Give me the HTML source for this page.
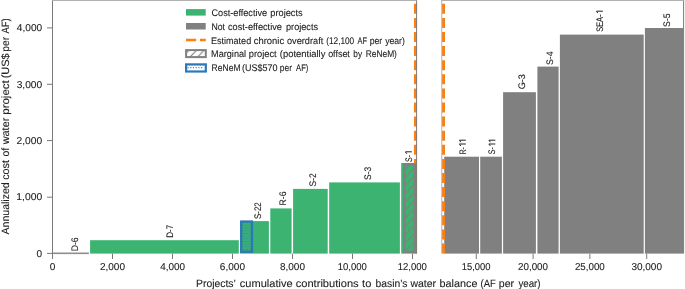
<!DOCTYPE html>
<html><head><meta charset="utf-8"><style>
html,body{margin:0;padding:0;background:#fff;width:685px;height:289px;overflow:hidden;}
svg{display:block;will-change:transform;}
text{font-family:"Liberation Sans", sans-serif;fill:#222222;text-rendering:geometricPrecision;stroke:#222222;stroke-width:0.1px;}
</style></head><body>
<svg width="685" height="289" viewBox="0 0 685 289">
<defs>
<pattern id="hatch" patternUnits="userSpaceOnUse" x="0" y="0.200" width="8.2" height="8.2"><rect width="8.2" height="8.2" fill="#3cb371"/><path d="M-1 9.2 L9.2 -1 M-1 1 L1 -1 M7.199999999999999 9.2 L9.2 7.199999999999999" stroke="#808080" stroke-width="1.15" fill="none"/></pattern>
<pattern id="hatchL" patternUnits="userSpaceOnUse" x="0" y="3.700" width="7.6" height="7.6"><rect width="7.6" height="7.6" fill="#fff"/><path d="M-1 8.6 L8.6 -1 M-1 1 L1 -1 M6.6 8.6 L8.6 6.6" stroke="#808080" stroke-width="1.15" fill="none"/></pattern>
<pattern id="dots" patternUnits="userSpaceOnUse" x="244.662" y="224.062" width="2.95" height="5.35"><rect width="2.95" height="5.35" fill="#3cb371"/><circle cx="0.738" cy="1.337" r="0.68" fill="#2a78b8"/><circle cx="2.213" cy="4.012" r="0.68" fill="#2a78b8"/></pattern>
<pattern id="dotsL" patternUnits="userSpaceOnUse" x="188.755" y="64.325" width="2.7" height="5.3"><rect width="2.7" height="5.3" fill="#fff"/><circle cx="0.675" cy="1.325" r="0.6" fill="#2a78b8"/><circle cx="2.025" cy="3.975" r="0.6" fill="#2a78b8"/></pattern>
</defs>
<rect x="52.5" y="252.5" width="36.4" height="1.6" fill="#8e8e8e"/>
<rect x="90.1" y="240.2" width="148.70" height="13.40" fill="#3cb371"/>
<rect x="252.9" y="221.1" width="16.00" height="32.50" fill="#3cb371"/>
<rect x="270.3" y="208.4" width="21.30" height="45.20" fill="#3cb371"/>
<rect x="293.1" y="188.9" width="34.60" height="64.70" fill="#3cb371"/>
<rect x="329.2" y="182.4" width="70.70" height="71.20" fill="#3cb371"/>
<rect x="401.2" y="163.0" width="15.40" height="90.60" fill="#3cb371"/>
<rect x="444.2" y="156.7" width="34.80" height="96.90" fill="#808080"/>
<rect x="480.2" y="156.7" width="21.70" height="96.90" fill="#808080"/>
<rect x="503.1" y="92.2" width="32.80" height="161.40" fill="#808080"/>
<rect x="537.4" y="66.6" width="21.20" height="187.00" fill="#808080"/>
<rect x="559.9" y="34.6" width="83.80" height="219.00" fill="#808080"/>
<rect x="644.9" y="28.0" width="38.20" height="225.60" fill="#808080"/>
<rect x="240.1" y="222" width="13" height="31.60" fill="#3cb371"/>
<rect x="241.25" y="221.55" width="10.70" height="30.20" fill="url(#dots)" stroke="#2a78b8" stroke-width="2.3"/>
<line x1="415.4" y1="3.8" x2="415.4" y2="253.6" stroke="#ff7f0e" stroke-width="2.9" stroke-dasharray="10 4.1"/>
<line x1="443.55" y1="3.8" x2="443.55" y2="253.6" stroke="#ff7f0e" stroke-width="2.9" stroke-dasharray="10 4.1"/>
<rect x="404.34999999999997" y="164.45000000000002" width="10.50" height="87.50" fill="url(#hatch)" stroke="#808080" stroke-width="2.3"/>
<path d="M52.5 0 V259 M416.6 0 V253.6" stroke="#7a7a7a" stroke-width="1" fill="none"/>
<path d="M683.6 0 V253.6" stroke="#7a7a7a" stroke-width="1" fill="none"/><rect x="441.5" y="0" width="0.7" height="253.6" fill="#909090"/>
<rect x="52" y="0" width="365.1" height="0.9" fill="#a9a9a9"/><rect x="441.5" y="0" width="242.6" height="0.9" fill="#a9a9a9"/>
<line x1="47" y1="253.4" x2="52.5" y2="253.4" stroke="#7a7a7a" stroke-width="1"/>
<text x="36.61" y="256.60" textLength="5.58" lengthAdjust="spacingAndGlyphs" style="font-size:10px">0</text>
<line x1="47" y1="197.2" x2="52.5" y2="197.2" stroke="#7a7a7a" stroke-width="1"/>
<text x="16.31" y="200.40" textLength="25.89" lengthAdjust="spacingAndGlyphs" style="font-size:10px">1,000</text>
<line x1="47" y1="140.6" x2="52.5" y2="140.6" stroke="#7a7a7a" stroke-width="1"/>
<text x="16.59" y="143.80" textLength="25.61" lengthAdjust="spacingAndGlyphs" style="font-size:10px">2,000</text>
<line x1="47" y1="84.3" x2="52.5" y2="84.3" stroke="#7a7a7a" stroke-width="1"/>
<text x="16.71" y="87.50" textLength="25.49" lengthAdjust="spacingAndGlyphs" style="font-size:10px">3,000</text>
<line x1="47" y1="27.9" x2="52.5" y2="27.9" stroke="#7a7a7a" stroke-width="1"/>
<text x="16.87" y="31.10" textLength="25.33" lengthAdjust="spacingAndGlyphs" style="font-size:10px">4,000</text>
<line x1="52.5" y1="253.6" x2="52.5" y2="259" stroke="#7a7a7a" stroke-width="1"/>
<text x="49.71" y="270.30" textLength="5.58" lengthAdjust="spacingAndGlyphs" style="font-size:10px">0</text>
<line x1="112.5" y1="253.6" x2="112.5" y2="259" stroke="#7a7a7a" stroke-width="1"/>
<text x="99.90" y="270.30" textLength="25.10" lengthAdjust="spacingAndGlyphs" style="font-size:10px">2,000</text>
<line x1="172.5" y1="253.6" x2="172.5" y2="259" stroke="#7a7a7a" stroke-width="1"/>
<text x="160.17" y="270.30" textLength="24.81" lengthAdjust="spacingAndGlyphs" style="font-size:10px">4,000</text>
<line x1="232.5" y1="253.6" x2="232.5" y2="259" stroke="#7a7a7a" stroke-width="1"/>
<text x="219.89" y="270.30" textLength="25.10" lengthAdjust="spacingAndGlyphs" style="font-size:10px">6,000</text>
<line x1="292.5" y1="253.6" x2="292.5" y2="259" stroke="#7a7a7a" stroke-width="1"/>
<text x="279.97" y="270.30" textLength="25.03" lengthAdjust="spacingAndGlyphs" style="font-size:10px">8,000</text>
<line x1="352.5" y1="253.6" x2="352.5" y2="259" stroke="#7a7a7a" stroke-width="1"/>
<text x="337.78" y="270.30" textLength="29.10" lengthAdjust="spacingAndGlyphs" style="font-size:10px">10,000</text>
<line x1="412.5" y1="253.6" x2="412.5" y2="259" stroke="#7a7a7a" stroke-width="1"/>
<text x="397.78" y="270.30" textLength="29.10" lengthAdjust="spacingAndGlyphs" style="font-size:10px">12,000</text>
<line x1="476.3" y1="253.6" x2="476.3" y2="259" stroke="#7a7a7a" stroke-width="1"/>
<text x="461.79" y="270.30" textLength="28.68" lengthAdjust="spacingAndGlyphs" style="font-size:10px">15,000</text>
<line x1="533.1" y1="253.6" x2="533.1" y2="259" stroke="#7a7a7a" stroke-width="1"/>
<text x="518.06" y="270.30" textLength="29.98" lengthAdjust="spacingAndGlyphs" style="font-size:10px">20,000</text>
<line x1="589.9" y1="253.6" x2="589.9" y2="259" stroke="#7a7a7a" stroke-width="1"/>
<text x="574.91" y="270.30" textLength="29.87" lengthAdjust="spacingAndGlyphs" style="font-size:10px">25,000</text>
<line x1="646.7" y1="253.6" x2="646.7" y2="259" stroke="#7a7a7a" stroke-width="1"/>
<text x="631.42" y="270.30" textLength="30.57" lengthAdjust="spacingAndGlyphs" style="font-size:10px">30,000</text>
<text x="196.05" y="286.60" textLength="39.79" lengthAdjust="spacingAndGlyphs" style="font-size:10.6px">Projects’</text>
<text x="239.83" y="286.60" textLength="52.76" lengthAdjust="spacingAndGlyphs" style="font-size:10.6px">cumulative</text>
<text x="295.73" y="286.60" textLength="62.97" lengthAdjust="spacingAndGlyphs" style="font-size:10.6px">contributions</text>
<text x="362.13" y="286.60" textLength="9.23" lengthAdjust="spacingAndGlyphs" style="font-size:10.6px">to</text>
<text x="375.54" y="286.60" textLength="31.93" lengthAdjust="spacingAndGlyphs" style="font-size:10.6px">basin’s</text>
<text x="410.42" y="286.60" textLength="25.66" lengthAdjust="spacingAndGlyphs" style="font-size:10.6px">water</text>
<text x="439.60" y="286.60" textLength="37.88" lengthAdjust="spacingAndGlyphs" style="font-size:10.6px">balance</text>
<text x="480.51" y="286.60" textLength="15.27" lengthAdjust="spacingAndGlyphs" style="font-size:10.6px">(AF</text>
<text x="498.81" y="286.60" textLength="15.36" lengthAdjust="spacingAndGlyphs" style="font-size:10.6px">per</text>
<text x="518.38" y="286.60" textLength="22.23" lengthAdjust="spacingAndGlyphs" style="font-size:10.6px">year)</text>
<text transform="translate(8.50 0) rotate(-90)" x="-234.42" y="0" textLength="52.00" lengthAdjust="spacingAndGlyphs" style="font-size:10.6px">Annualized</text>
<text transform="translate(8.50 0) rotate(-90)" x="-179.86" y="0" textLength="19.74" lengthAdjust="spacingAndGlyphs" style="font-size:10.6px">cost</text>
<text transform="translate(8.50 0) rotate(-90)" x="-156.54" y="0" textLength="8.83" lengthAdjust="spacingAndGlyphs" style="font-size:10.6px">of</text>
<text transform="translate(8.50 0) rotate(-90)" x="-144.28" y="0" textLength="26.56" lengthAdjust="spacingAndGlyphs" style="font-size:10.6px">water</text>
<text transform="translate(8.50 0) rotate(-90)" x="-114.74" y="0" textLength="34.42" lengthAdjust="spacingAndGlyphs" style="font-size:10.6px">project</text>
<text transform="translate(8.50 0) rotate(-90)" x="-78.38" y="0" textLength="25.06" lengthAdjust="spacingAndGlyphs" style="font-size:10.6px">(US$</text>
<text transform="translate(8.50 0) rotate(-90)" x="-51.66" y="0" textLength="14.73" lengthAdjust="spacingAndGlyphs" style="font-size:10.6px">per</text>
<text transform="translate(8.50 0) rotate(-90)" x="-33.52" y="0" textLength="15.20" lengthAdjust="spacingAndGlyphs" style="font-size:10.6px">AF)</text>
<text transform="translate(77.77 0) rotate(-90)" x="-251.31" y="0" textLength="13.99" lengthAdjust="spacingAndGlyphs" style="font-size:9.5px">D-6</text>
<text transform="translate(172.97 0) rotate(-90)" x="-237.76" y="0" textLength="12.96" lengthAdjust="spacingAndGlyphs" style="font-size:9.5px">D-7</text>
<text transform="translate(261.27 0) rotate(-90)" x="-219.06" y="0" textLength="16.86" lengthAdjust="spacingAndGlyphs" style="font-size:9.5px">S-22</text>
<text transform="translate(286.07 0) rotate(-90)" x="-205.41" y="0" textLength="13.89" lengthAdjust="spacingAndGlyphs" style="font-size:9.5px">R-6</text>
<text transform="translate(315.57 0) rotate(-90)" x="-186.38" y="0" textLength="13.11" lengthAdjust="spacingAndGlyphs" style="font-size:9.5px">S-2</text>
<text transform="translate(371.07 0) rotate(-90)" x="-179.88" y="0" textLength="13.16" lengthAdjust="spacingAndGlyphs" style="font-size:9.5px">S-3</text>
<text transform="translate(524.87 0) rotate(-90)" x="-89.36" y="0" textLength="15.16" lengthAdjust="spacingAndGlyphs" style="font-size:9.5px">G-3</text>
<text transform="translate(553.37 0) rotate(-90)" x="-65.10" y="0" textLength="13.66" lengthAdjust="spacingAndGlyphs" style="font-size:9.5px">S-4</text>
<text transform="translate(670.37 0) rotate(-90)" x="-26.89" y="0" textLength="13.46" lengthAdjust="spacingAndGlyphs" style="font-size:9.5px">S-5</text>
<text transform="translate(465.80 0) rotate(-90)" x="-154.36" y="0" textLength="7.16" lengthAdjust="spacingAndGlyphs" style="font-size:9.5px">R-</text>
<path d="M459.30 144.00 H465.80 M459.50 144.20 L460.80 146.00" stroke="#222222" stroke-width="1.0" fill="none"/>
<path d="M459.30 140.20 H465.80 M459.50 140.40 L460.80 142.20" stroke="#222222" stroke-width="1.0" fill="none"/>
<text transform="translate(495.30 0) rotate(-90)" x="-154.22" y="0" textLength="7.03" lengthAdjust="spacingAndGlyphs" style="font-size:9.5px">S-</text>
<path d="M488.80 144.00 H495.30 M489.00 144.20 L490.30 146.00" stroke="#222222" stroke-width="1.0" fill="none"/>
<path d="M488.80 140.20 H495.30 M489.00 140.40 L490.30 142.20" stroke="#222222" stroke-width="1.0" fill="none"/>
<text transform="translate(411.80 0) rotate(-90)" x="-161.92" y="0" textLength="7.03" lengthAdjust="spacingAndGlyphs" style="font-size:9.5px">S-</text>
<path d="M405.30 151.80 H411.80 M405.50 152.00 L406.80 153.80" stroke="#222222" stroke-width="1.0" fill="none"/>
<text transform="translate(602.90 0) rotate(-90)" x="-31.84" y="0" textLength="17.37" lengthAdjust="spacingAndGlyphs" style="font-size:9.5px">SEA-</text>
<path d="M596.40 11.20 H602.90 M596.60 11.40 L597.90 13.20" stroke="#222222" stroke-width="1.0" fill="none"/>
<rect x="186" y="9.1" width="19.7" height="6.5" fill="#3cb371"/>
<rect x="186" y="23" width="19.7" height="6.5" fill="#808080"/>
<line x1="186" y1="40" x2="205.8" y2="40" stroke="#ff7f0e" stroke-width="2.3" stroke-dasharray="10.2 3.8"/>
<rect x="186.1" y="50.1" width="19.7" height="7" fill="url(#hatchL)" stroke="#808080" stroke-width="2"/>
<rect x="186.1" y="64.4" width="19.7" height="7.1" fill="#fff" stroke="#2a78b8" stroke-width="2.2"/>
<circle cx="188.10" cy="67.7" r="0.65" fill="#2a78b8"/>
<circle cx="190.80" cy="67.7" r="0.65" fill="#2a78b8"/>
<circle cx="193.50" cy="67.7" r="0.65" fill="#2a78b8"/>
<circle cx="196.20" cy="67.7" r="0.65" fill="#2a78b8"/>
<circle cx="198.90" cy="67.7" r="0.65" fill="#2a78b8"/>
<circle cx="201.60" cy="67.7" r="0.65" fill="#2a78b8"/>
<circle cx="189.45" cy="65.3" r="0.5" fill="#2a78b8" opacity="0.5"/>
<circle cx="192.15" cy="65.3" r="0.5" fill="#2a78b8" opacity="0.5"/>
<circle cx="194.85" cy="65.3" r="0.5" fill="#2a78b8" opacity="0.5"/>
<circle cx="197.55" cy="65.3" r="0.5" fill="#2a78b8" opacity="0.5"/>
<circle cx="200.25" cy="65.3" r="0.5" fill="#2a78b8" opacity="0.5"/>
<circle cx="202.95" cy="65.3" r="0.5" fill="#2a78b8" opacity="0.5"/>
<text x="211.54" y="16.00" textLength="55.57" lengthAdjust="spacingAndGlyphs" style="font-size:9.6px">Cost-effective</text>
<text x="270.30" y="16.00" textLength="32.33" lengthAdjust="spacingAndGlyphs" style="font-size:9.6px">projects</text>
<text x="211.38" y="29.50" textLength="13.58" lengthAdjust="spacingAndGlyphs" style="font-size:9.6px">Not</text>
<text x="228.01" y="29.50" textLength="53.90" lengthAdjust="spacingAndGlyphs" style="font-size:9.6px">cost-effective</text>
<text x="286.01" y="29.50" textLength="32.02" lengthAdjust="spacingAndGlyphs" style="font-size:9.6px">projects</text>
<text x="210.96" y="43.70" textLength="40.23" lengthAdjust="spacingAndGlyphs" style="font-size:9.6px">Estimated</text>
<text x="253.80" y="43.70" textLength="30.35" lengthAdjust="spacingAndGlyphs" style="font-size:9.6px">chronic</text>
<text x="287.01" y="43.70" textLength="36.25" lengthAdjust="spacingAndGlyphs" style="font-size:9.6px">overdraft</text>
<text x="326.19" y="43.70" textLength="28.04" lengthAdjust="spacingAndGlyphs" style="font-size:9.6px">(12,100</text>
<text x="357.49" y="43.70" textLength="9.51" lengthAdjust="spacingAndGlyphs" style="font-size:9.6px">AF</text>
<text x="369.74" y="43.70" textLength="12.50" lengthAdjust="spacingAndGlyphs" style="font-size:9.6px">per</text>
<text x="385.18" y="43.70" textLength="19.66" lengthAdjust="spacingAndGlyphs" style="font-size:9.6px">year)</text>
<text x="211.05" y="57.40" textLength="35.06" lengthAdjust="spacingAndGlyphs" style="font-size:9.6px">Marginal</text>
<text x="248.80" y="57.40" textLength="27.87" lengthAdjust="spacingAndGlyphs" style="font-size:9.6px">project</text>
<text x="279.82" y="57.40" textLength="45.60" lengthAdjust="spacingAndGlyphs" style="font-size:9.6px">(potentially</text>
<text x="328.13" y="57.40" textLength="21.74" lengthAdjust="spacingAndGlyphs" style="font-size:9.6px">offset</text>
<text x="353.37" y="57.40" textLength="8.75" lengthAdjust="spacingAndGlyphs" style="font-size:9.6px">by</text>
<text x="365.71" y="57.40" textLength="31.21" lengthAdjust="spacingAndGlyphs" style="font-size:9.6px">ReNeM)</text>
<text x="211.60" y="71.10" textLength="28.90" lengthAdjust="spacingAndGlyphs" style="font-size:9.6px">ReNeM</text>
<text x="242.04" y="71.10" textLength="35.51" lengthAdjust="spacingAndGlyphs" style="font-size:9.6px">(US$570</text>
<text x="279.86" y="71.10" textLength="12.08" lengthAdjust="spacingAndGlyphs" style="font-size:9.6px">per</text>
<text x="296.09" y="71.10" textLength="12.29" lengthAdjust="spacingAndGlyphs" style="font-size:9.6px">AF)</text>
</svg>
</body></html>
